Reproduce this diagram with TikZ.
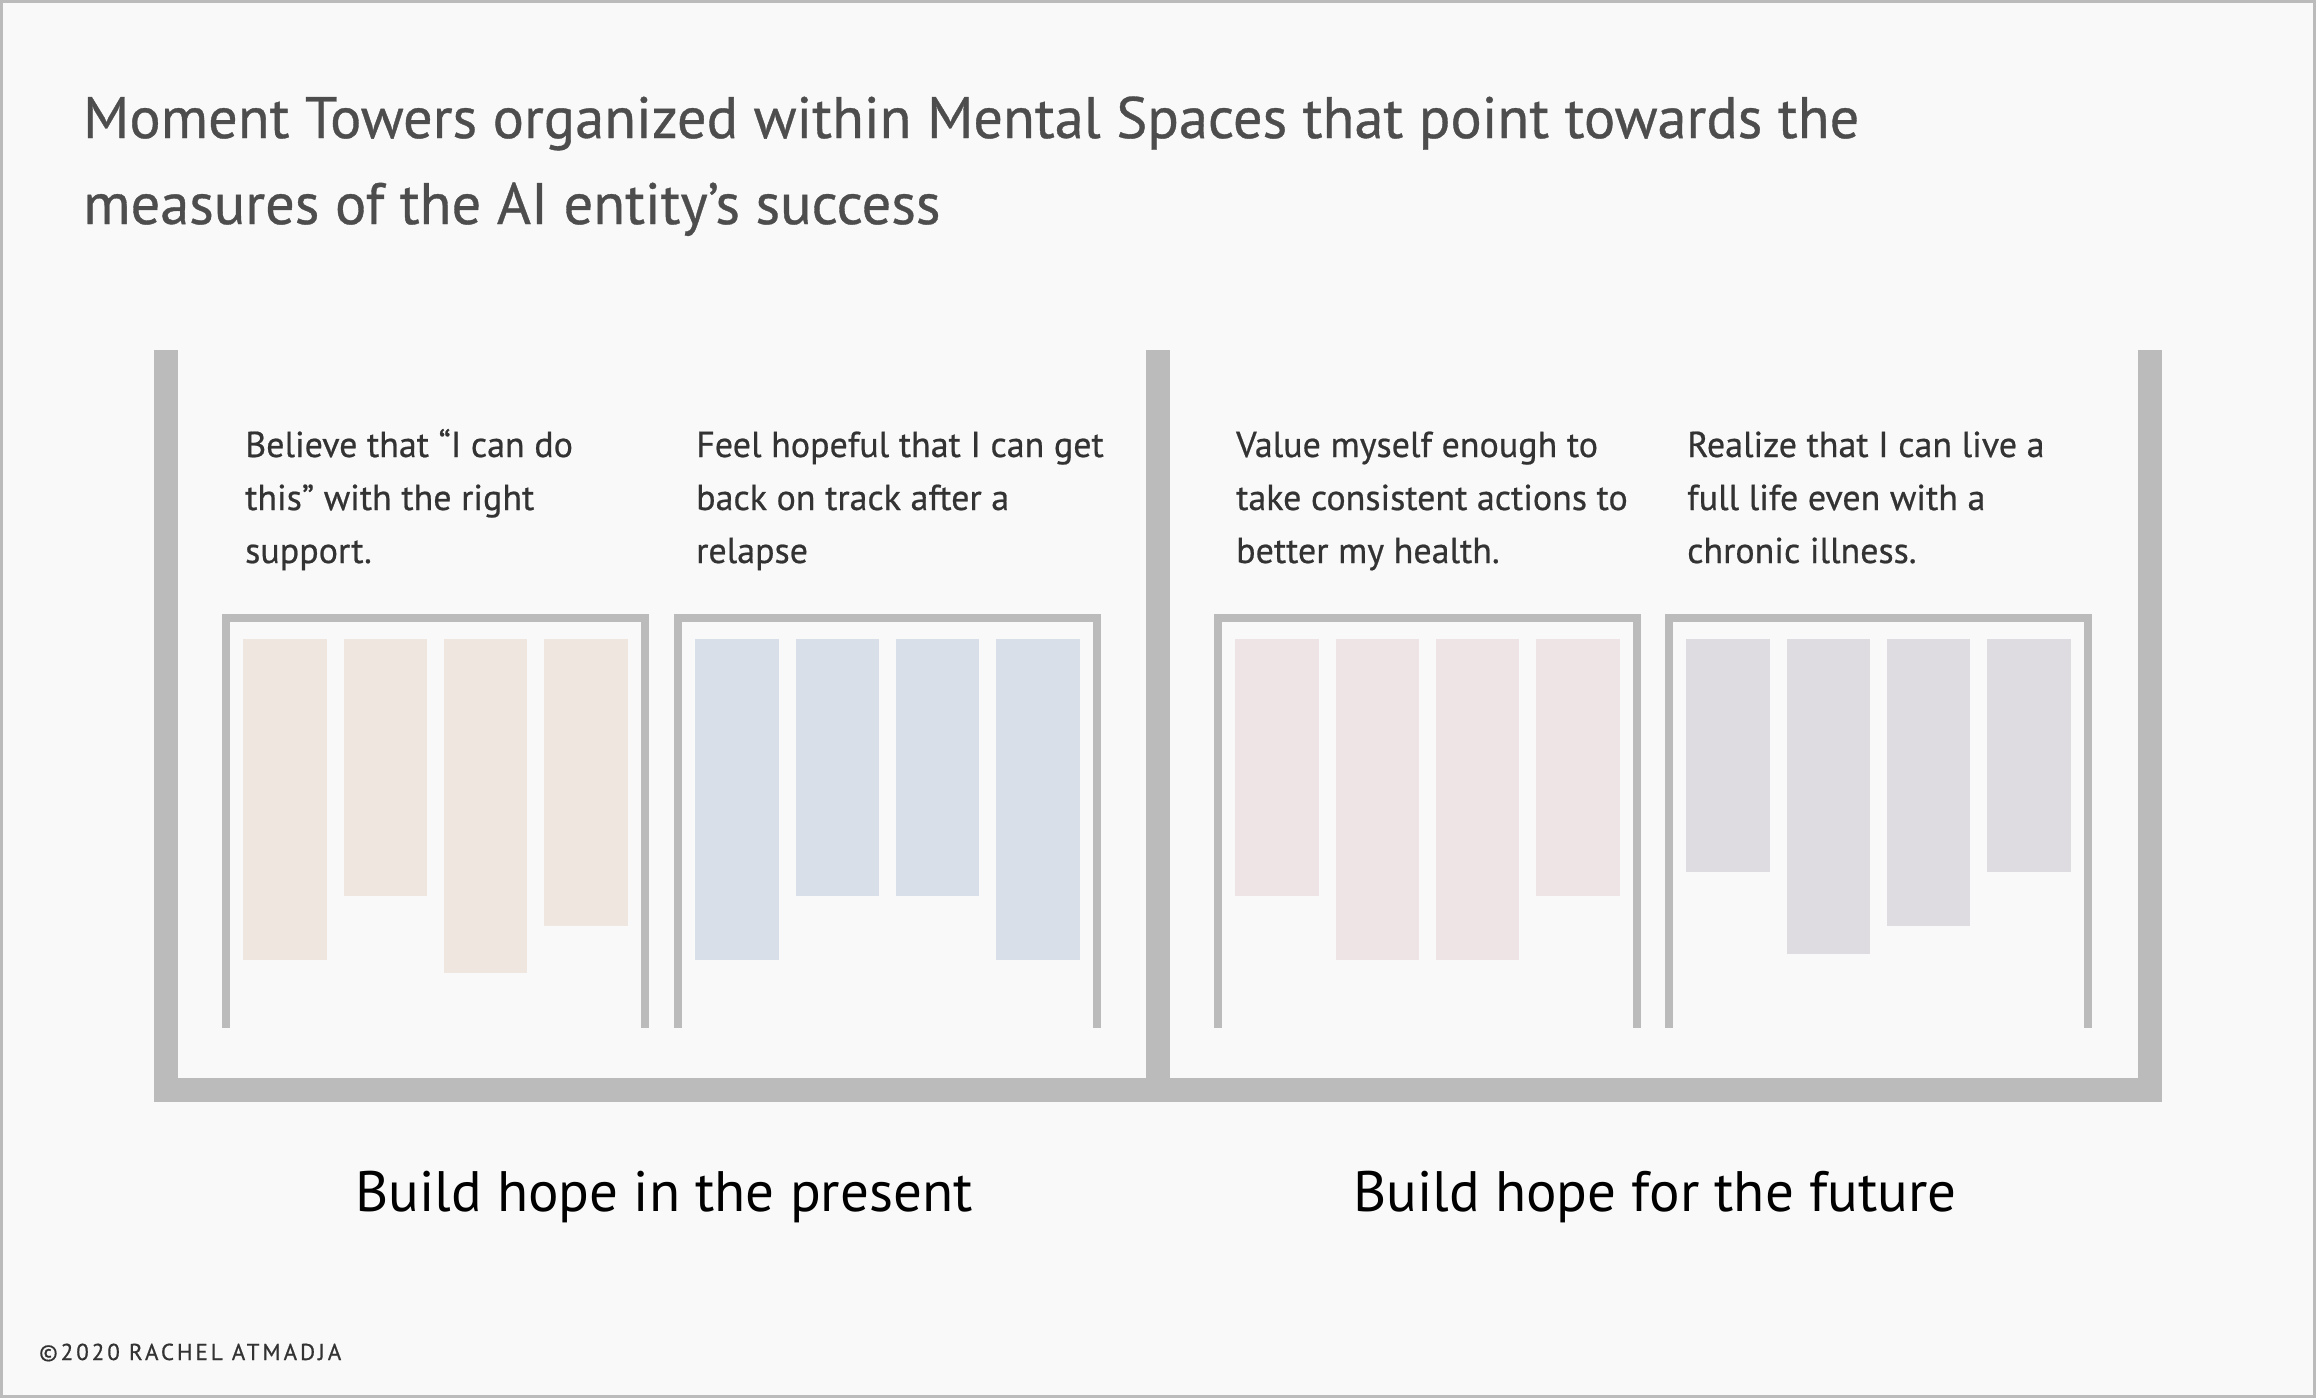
\documentclass[tikz,border=0pt]{standalone}
\usepackage{fontspec}
\setmainfont{PT Sans}
\newfontfamily\medfont[FakeBold=0.6]{PT Sans}
\newfontfamily\copyfont[LetterSpace=13,FakeBold=0.6]{PT Sans}
\definecolor{bg}{HTML}{F9F9F9}
\definecolor{wall}{HTML}{BBBBBB}
\definecolor{titlec}{HTML}{4D4D4D}
\definecolor{txtc}{HTML}{333333}
\definecolor{beige}{HTML}{EFE7DF}
\definecolor{blueb}{HTML}{D9DFE9}
\definecolor{pinkb}{HTML}{EEE3E5}
\definecolor{lavb}{HTML}{DEDCE1}
\tikzset{
  titletext/.style={anchor=base west, inner sep=0, text=titlec, font=\medfont\fontsize{58.4}{62}\selectfont},
  towertext/.style={anchor=base west, inner sep=0, text=txtc, font=\medfont\fontsize{36}{40}\selectfont},
  spacetext/.style={anchor=base, inner sep=0, text=black, font=\fontsize{57}{60}\selectfont},
  wallfill/.style={fill=wall, draw=none},
  frameline/.style={draw=wall, line width=8pt, line join=miter},
}
\begin{document}
\begin{tikzpicture}[x=1pt,y=-1pt]
\fill[bg] (0,0) rectangle (2316,1398);
\draw[wall, line width=3pt] (1.5,1.5) rectangle (2314.5,1396.5);
\useasboundingbox (0,0) rectangle (2316,1398);
% title
\node[titletext] (title1) at (83,138) {Moment Towers organized within Mental Spaces that point towards the};
\node[titletext] (title2) at (83,224) {measures of the AI entity’s success};
% container walls
\fill[wallfill] (154,350) rectangle (178,1102);
\fill[wallfill] (1146,350) rectangle (1170,1078);
\fill[wallfill] (2138,350) rectangle (2162,1102);
\fill[wallfill] (154,1078) rectangle (2162,1102);
% towers
\foreach \tx/\col/\ha/\hb/\hc/\hd in {222/beige/960/896/973/926, 674/blueb/960/896/896/960, 1214/pinkb/896/960/960/896, 1665/lavb/872/954/926/872}{
  \draw[frameline] (\tx+4,1028) -- (\tx+4,618) -- (\tx+423,618) -- (\tx+423,1028);
  \fill[\col] (\tx+21,639) rectangle (\tx+105,\ha);
  \fill[\col] (\tx+122,639) rectangle (\tx+205,\hb);
  \fill[\col] (\tx+222,639) rectangle (\tx+305,\hc);
  \fill[\col] (\tx+322,639) rectangle (\tx+406,\hd);
}
% tower texts
\node[towertext] (t1a) at (245,457) {Believe that “I can do};
\node[towertext] (t1b) at (245,510) {this” with the right};
\node[towertext] (t1c) at (245,563) {support.};
\node[towertext] (t2a) at (696,457) {Feel hopeful that I can get};
\node[towertext] (t2b) at (696,510) {back on track after a};
\node[towertext] (t2c) at (696,563) {relapse};
\node[towertext] (t3a) at (1236,457) {Value myself enough to};
\node[towertext] (t3b) at (1236,510) {take consistent actions to};
\node[towertext] (t3c) at (1236,563) {better my health.};
\node[towertext] (t4a) at (1687,457) {Realize that I can live a};
\node[towertext] (t4b) at (1687,510) {full life even with a};
\node[towertext] (t4c) at (1687,563) {chronic illness.};
% space labels
\node[spacetext] (space1) at (664,1211) {Build hope in the present};
\node[spacetext] (space2) at (1655,1211) {Build hope for the future};
% copyright
\node[anchor=base west, inner sep=0, text=txtc, font=\copyfont\fontsize{23}{26}\selectfont] (copy) at (39,1360) {©2020 RACHEL ATMADJA};
\end{tikzpicture}
\end{document}
